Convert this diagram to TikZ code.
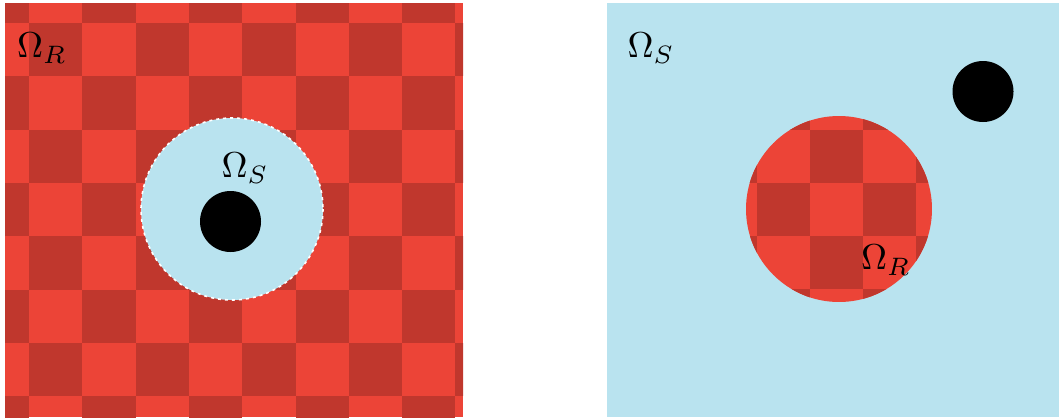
\documentclass[tikz,border=0pt]{standalone}
\usepackage{graphicx}
\definecolor{lred}{HTML}{EC4437}
\definecolor{dred}{HTML}{C0372D}
\definecolor{sky}{HTML}{B9E3EF}
\newcommand{\biglbl}[1]{\scalebox{1.8}{$#1$}}
\tikzset{
  lbl/.style={inner sep=0pt},
  hole/.style={circle, fill=black, inner sep=0pt, minimum size=30.5pt},
  rim/.style={draw=white, line width=0.8pt, dash pattern=on 1.5pt off 2pt}
}
\begin{document}
\begin{tikzpicture}[x=0.5pt,y=-0.5pt]
\useasboundingbox (0,0) rectangle (1059,418);
% ---------- left panel ----------
\begin{scope}
  \clip (5,3) rectangle (463,417);
  \fill[lred] (5,3) rectangle (463,417);
  \foreach \i in {0,...,9}{
    \foreach \j in {0,...,8}{
      \pgfmathtruncatemacro\s{mod(\i+\j,2)}
      \ifnum\s=0
        \fill[dred] ({-24.3+53.3*\i},{-30.3+53.3*\j}) rectangle ++(53.3,53.3);
      \fi
    }
  }
\end{scope}
\fill[sky] (232,209) circle [radius=91];
\draw[rim] (232,209) circle [radius=91];
\node[hole] (holeL) at (230.5,221.5) {};
\node[lbl] (omRL) at (42,48) {\biglbl{\Omega_R}};
\node[lbl] (omSL) at (245,168) {\biglbl{\Omega_S}};
% ---------- right panel ----------
\fill[sky] (607,3) rectangle (1059,417);
\begin{scope}
  \clip (839,209) circle [radius=93];
  \fill[lred] (746,116) rectangle (932,302);
  \foreach \i in {0,...,4}{
    \foreach \j in {0,...,4}{
      \pgfmathtruncatemacro\s{mod(\i+\j,2)}
      \ifnum\s=1
        \fill[dred] ({704+53*\i},{77+53*\j}) rectangle ++(53,53);
      \fi
    }
  }
\end{scope}
\node[hole] (holeR) at (983,91.5) {};
\node[lbl] (omSR) at (651,48) {\biglbl{\Omega_S}};
\node[lbl] (omRR) at (886,260) {\biglbl{\Omega_R}};
\end{tikzpicture}
\end{document}
